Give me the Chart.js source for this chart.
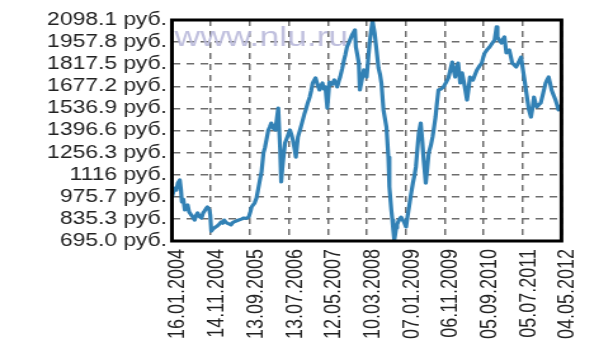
<!DOCTYPE html>
<html>
<head>
<meta charset="utf-8">
<script src="https://cdn.jsdelivr.net/npm/chart.js@4/dist/chart.umd.min.js"></script>
<style>
    html, body { margin: 0; padding: 0; background: #fff; }
    #priceChart { display: block; width: 599px; height: 350px; }
</style>
</head>
<body>
<canvas id="priceChart" width="472" height="350" style="width:599px;height:350px"></canvas>
<script>
(function() {
    'use strict';

    // days since 16.01.2004
    var days = [0,12,23,34,46,61,70,77,88,100,110,122,133,145,160,176,188,199,214,230,242,253,265,276,291,298,306,318,329,340,352,367,383,395,406,418,429,444,459,470,482,500,520,540,559,578,597,610,620,632,643,658,674,686,697,712,724,735,750,762,773,790,804,816,827,842,850,858,865,880,900,918,930,941,954,964,980,1000,1018,1030,1041,1056,1072,1084,1095,1106,1117,1132,1148,1160,1171,1182,1194,1209,1225,1245,1263,1275,1286,1298,1309,1325,1339,1350,1362,1380,1401,1413,1424,1431,1442,1454,1462,1478,1493,1505,1515,1527,1538,1550,1561,1577,1592,1607,1620,1630,1646,1658,1669,1684,1692,1707,1715,1722,1730,1738,1745,1752,1760,1772,1783,1795,1806,1822,1833,1845,1860,1875,1887,1898,1910,1921,1936,1948,1959,1975,1987,1998,2014,2028,2040,2051,2062,2074,2094,2113,2132,2151,2166,2181,2192,2204,2215,2227,2243,2258,2277,2296,2308,2319,2330,2342,2358,2373,2392,2411,2422,2434,2453,2472,2492,2511,2526,2533,2548,2564,2575,2587,2602,2614,2625,2636,2648,2664,2679,2698,2717,2728,2740,2755,2766,2778,2794,2806,2817,2828,2840,2855,2870,2889,2908,2920,2931,2942,2954,2970,2985,2996,3008,3020,3031];

    // price, руб.
    var prices = [974,1010,1031,1018,1063,1082,1020,943,960,892,915,924,880,866,850,828,858,873,850,841,872,885,900,911,892,860,758,770,778,784,790,802,816,808,828,815,809,803,797,810,816,822,828,834,841,838,847,880,911,925,936,968,1038,1090,1133,1254,1290,1336,1400,1420,1444,1410,1400,1470,1539,1273,1070,1150,1209,1317,1360,1400,1370,1336,1280,1228,1355,1410,1463,1500,1527,1570,1609,1650,1698,1715,1730,1690,1654,1680,1698,1660,1673,1539,1704,1690,1717,1695,1673,1710,1736,1790,1844,1880,1927,1960,2003,2020,2035,1927,1880,1825,1654,1720,1781,1750,1736,1850,1952,2030,2092,2016,1908,1793,1750,1698,1527,1470,1419,1228,1038,892,830,765,701,740,778,800,816,835,847,830,816,784,850,911,990,1063,1110,1165,1280,1381,1444,1330,1209,1063,1160,1254,1300,1355,1420,1482,1570,1654,1660,1673,1700,1730,1780,1831,1780,1736,1790,1825,1698,1762,1680,1590,1660,1736,1725,1717,1750,1781,1805,1825,1860,1889,1910,1927,1950,1971,2054,1990,1970,1952,1975,1990,1889,1900,1908,1870,1825,1812,1800,1830,1863,1800,1736,1654,1590,1527,1482,1540,1609,1575,1546,1560,1571,1635,1698,1720,1736,1700,1654,1620,1590,1560,1527,1545,1558];

    var xTickLabels = ['16.01.2004', '14.11.2004', '13.09.2005', '13.07.2006', '12.05.2007',
        '10.03.2008', '07.01.2009', '06.11.2009', '05.09.2010', '05.07.2011', '04.05.2012'];
    var xTickDays = [0, 303.1, 606.2, 909.3, 1212.4, 1515.5, 1818.6, 2121.7, 2424.8, 2727.9, 3031];

    var yTickValues = [695.0, 835.3, 975.7, 1116, 1256.3, 1396.6, 1536.9, 1677.2, 1817.5, 1957.8, 2098.1];
    var yTickLabels = ['695.0 руб.', '835.3 руб.', '975.7 руб.', '1116 руб.', '1256.3 руб.', '1396.6 руб.',
        '1536.9 руб.', '1677.2 руб.', '1817.5 руб.', '1957.8 руб.', '2098.1 руб.'];

    var points = days.map(function(d, i) {
        return { x: d, y: prices[i] };
    });

    // watermark + black frame
    var framePlugin = {
        id: 'frame',
        beforeDatasetsDraw: function(chart) {
            var ctx = chart.ctx;
            var area = chart.chartArea;
            ctx.save();
            ctx.font = '28px "Liberation Sans", Arial, sans-serif';
            ctx.fillStyle = 'rgba(185, 185, 218, 0.9)';
            ctx.textBaseline = 'alphabetic';
            ctx.fillText('www.nlu.ru', area.left + 2, area.top + 26);
            ctx.restore();
        },
        afterDraw: function(chart) {
            var ctx = chart.ctx;
            var area = chart.chartArea;
            ctx.save();
            ctx.strokeStyle = '#000';
            ctx.lineWidth = 3;
            ctx.strokeRect(area.left, area.top, area.right - area.left, area.bottom - area.top);
            ctx.restore();
        }
    };

    var gridStyle = {
        color: '#6e6e6e',
        lineWidth: 1.5,
        drawTicks: false
    };

    var tickFont = { family: '"Liberation Sans", Arial, sans-serif', size: 18 };

    new Chart(document.getElementById('priceChart'), {
        type: 'line',
        data: {
            datasets: [{
                data: points,
                borderColor: '#3281b5',
                borderWidth: 3.2,
                pointRadius: 0,
                tension: 0,
                borderJoinStyle: 'round'
            }]
        },
        options: {
            responsive: false,
            animation: false,
            layout: { padding: { left: 0, right: 24, top: 20, bottom: 0 } },
            plugins: {
                legend: { display: false },
                tooltip: { enabled: false }
            },
            scales: {
                x: {
                    type: 'linear',
                    min: 0,
                    max: 3031,
                    afterBuildTicks: function(scale) {
                        scale.ticks = xTickDays.map(function(v) { return { value: v }; });
                    },
                    afterFit: function(scale) { scale.height = 109; },
                    grid: gridStyle,
                    border: { display: false, dash: [6, 5] },
                    ticks: {
                        autoSkip: false,
                        minRotation: 90,
                        maxRotation: 90,
                        padding: 8,
                        labelOffset: 5,
                        color: '#222',
                        font: tickFont,
                        callback: function(value, index) { return xTickLabels[index]; }
                    }
                },
                y: {
                    type: 'linear',
                    min: 695.0,
                    max: 2098.1,
                    afterBuildTicks: function(scale) {
                        scale.ticks = yTickValues.map(function(v) { return { value: v }; });
                    },
                    afterFit: function(scale) { scale.width = 135.5; },
                    grid: gridStyle,
                    border: { display: false, dash: [6, 5] },
                    ticks: {
                        autoSkip: false,
                        padding: 4,
                        color: '#222',
                        font: tickFont,
                        callback: function(value, index) { return yTickLabels[index]; }
                    }
                }
            }
        },
        plugins: [framePlugin]
    });
})();
</script>
</body>
</html>
